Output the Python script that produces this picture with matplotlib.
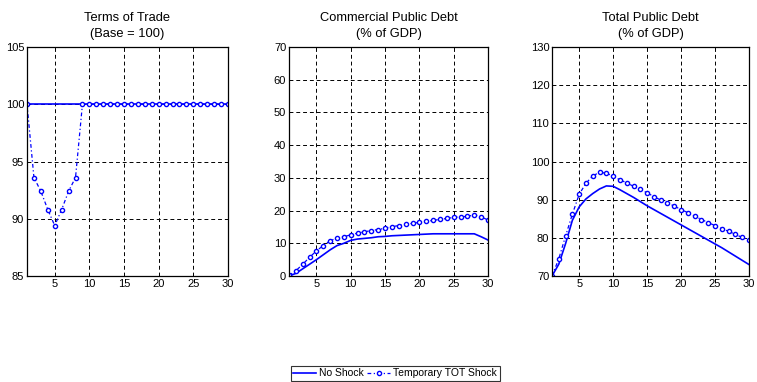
import matplotlib
matplotlib.use("Agg")
import matplotlib.pyplot as plt

plt.rcParams['font.family'] = ['Liberation Sans', 'DejaVu Sans']

periods = list(range(1, 31))

tot_no_shock = [100.0] * 30
tot_shock = [100.0, 93.6, 92.4, 90.8, 89.4, 90.8, 92.4, 93.6] + [100.0] * 22

comm_no_shock = [0.0, 0.8, 2.2, 3.6, 5.0, 6.5, 8.0, 9.3, 10.0, 10.9,
                 11.3, 11.5, 11.7, 12.0, 12.1, 12.3, 12.4, 12.5, 12.6, 12.7,
                 12.8, 12.9, 12.9, 12.9, 12.9, 12.9, 12.9, 12.9, 12.0, 11.0]
comm_shock = [0.2, 1.6, 3.6, 5.7, 7.7, 9.3, 10.8, 11.6, 12.0, 12.6,
              13.1, 13.5, 13.9, 14.2, 14.6, 15.1, 15.4, 15.8, 16.1, 16.4,
              16.7, 17.0, 17.3, 17.6, 17.9, 18.1, 18.2, 18.7, 18.1, 17.1]

total_no_shock = [70.0, 73.1, 78.5, 84.6, 88.1, 90.2, 91.6, 92.8, 93.6, 93.5,
                  92.6, 91.6, 90.6, 89.5, 88.4, 87.4, 86.4, 85.4, 84.4, 83.4,
                  82.4, 81.4, 80.4, 79.4, 78.4, 77.4, 76.3, 75.2, 74.1, 73.0]
total_shock = [70.0, 74.5, 80.5, 86.2, 91.4, 94.3, 96.2, 97.2, 96.9, 96.2,
               95.2, 94.4, 93.5, 92.7, 91.8, 90.8, 89.9, 89.2, 88.3, 87.4,
               86.6, 85.7, 84.8, 84.0, 83.2, 82.4, 81.7, 80.9, 80.1, 79.4]

titles = ["Terms of Trade\n(Base = 100)",
          "Commercial Public Debt\n(% of GDP)",
          "Total Public Debt\n(% of GDP)"]
ylims = [(85, 105), (0, 70), (70, 130)]
yticks = [list(range(85, 106, 5)), list(range(0, 71, 10)), list(range(70, 131, 10))]
xticks = [5, 10, 15, 20, 25, 30]

series = [(tot_no_shock, tot_shock),
          (comm_no_shock, comm_shock),
          (total_no_shock, total_shock)]

fig = plt.figure(figsize=(7.57, 3.82), dpi=100)
W, H = 757, 382
lefts = [27, 289, 552]
widths = [201, 199, 197]
top_px, bottom_px = 47, 276

blue = (0, 0, 1)
handles = None
for i in range(3):
    ax = fig.add_axes([lefts[i] / W, 1 - bottom_px / H,
                       widths[i] / W, (bottom_px - top_px) / H])
    base, shock = series[i]
    l1, = ax.plot(periods, base, color=blue, lw=1.2, label="No Shock")
    l2, = ax.plot(periods, shock, color=blue, lw=0.9, ls=(0, (3, 2, 1, 2)),
                  marker='o', ms=3, mfc='white', mec=blue, mew=1.0,
                  label="Temporary TOT Shock")
    handles = [l1, l2]
    ax.set_xlim(1, 30)
    ax.set_ylim(*ylims[i])
    ax.set_xticks(xticks)
    ax.set_yticks(yticks[i])
    ax.grid(True, color='black', ls=(0, (4, 3)), lw=0.7)
    ax.tick_params(labelsize=8, length=0, pad=2)
    ax.set_title(titles[i], fontsize=9.3, pad=7, linespacing=1.45)
    for s in ax.spines.values():
        s.set_linewidth(0.9)

leg = fig.legend(handles, ["No Shock", "Temporary TOT Shock"],
                 loc='lower center', bbox_to_anchor=(0.522, 0.0), ncol=2,
                 fontsize=7.5, frameon=True, fancybox=False,
                 handlelength=2.2, handletextpad=0.3, columnspacing=0.3,
                 borderpad=0.25, borderaxespad=0.1)
leg.get_frame().set_edgecolor('black')
leg.get_frame().set_linewidth(0.8)

fig.savefig("out.png", dpi=100)
